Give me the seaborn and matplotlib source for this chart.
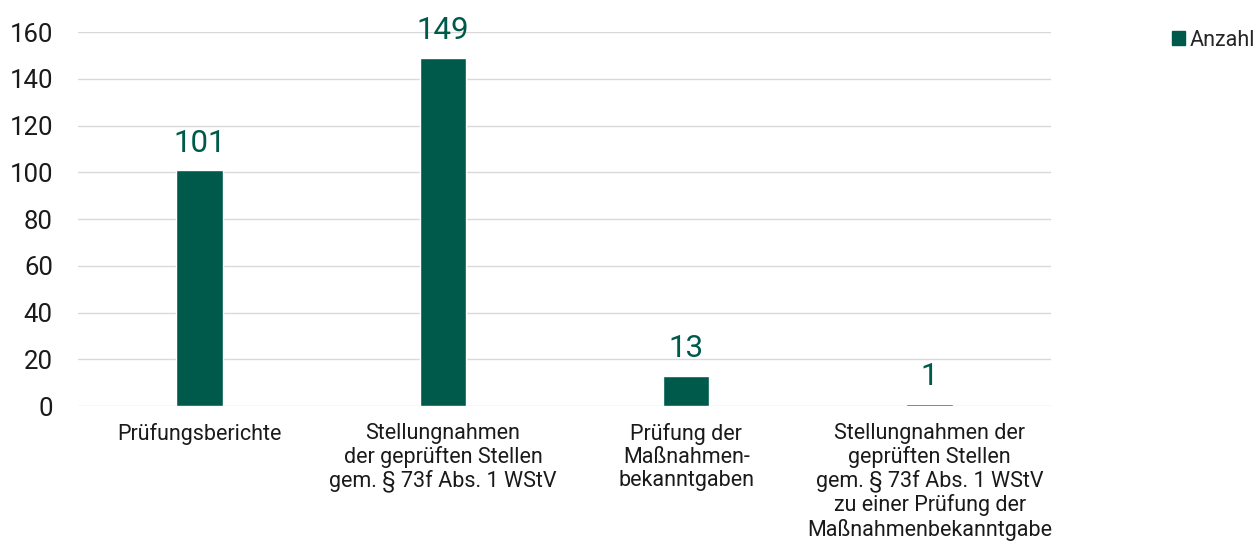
import matplotlib
matplotlib.use("Agg")
import matplotlib.pyplot as plt
from matplotlib.patches import Patch
import seaborn as sns
import pandas as pd

categories = [
    "Prüfungsberichte",
    "Stellungnahmen\nder geprüften Stellen\ngem. § 73f Abs. 1 WStV",
    "Prüfung der\nMaßnahmen-\nbekanntgaben",
    "Stellungnahmen der\ngeprüften Stellen\ngem. § 73f Abs. 1 WStV\nzu einer Prüfung der\nMaßnahmenbekanntgabe",
]
values = [101, 149, 13, 1]
series_name = "Anzahl"
yticks = [0, 20, 40, 60, 80, 100, 120, 140, 160]

sns.set_theme(style="white")
plt.rcParams["font.family"] = ["Roboto", "DejaVu Sans"]

color = "#005A4B"
df = pd.DataFrame({"cat": categories, "val": values})

fig = plt.figure(figsize=(12.56, 5.45), dpi=100)
ax = fig.add_axes([0.062, 0.255, 0.775, 0.686])
sns.barplot(data=df, x="cat", y="val", color=color, width=0.19, saturation=1, ax=ax)

ax.set_ylim(0, 160)
ax.set_xlim(-0.5, 3.5)
ax.set_yticks(yticks)
ax.yaxis.grid(True, color="#D9D9D9", linewidth=1)
ax.set_axisbelow(True)
for s in ax.spines.values():
    s.set_visible(False)
ax.set_xlabel("")
ax.set_ylabel("")
ax.tick_params(axis="y", labelsize=18.5, length=0, pad=18, colors="#1a1a1a")
ax.tick_params(axis="x", labelsize=15.5, length=0, pad=12, colors="#1a1a1a")
for lbl in ax.get_yticklabels():
    lbl.set_horizontalalignment("right")
for lbl in ax.get_xticklabels():
    lbl.set_linespacing(1.12)

for cont in ax.containers:
    ax.bar_label(cont, labels=[str(v) for v in values], fontsize=22.5, color=color, padding=9)

handles = [Patch(facecolor=color, edgecolor=color, label=series_name)]
fig.legend(handles=handles, loc="upper right", bbox_to_anchor=(1.0145, 0.981), frameon=False,
           fontsize=15.5, handlelength=0.6, handleheight=0.6, handletextpad=0.2)

fig.savefig("out.png", dpi=100)
